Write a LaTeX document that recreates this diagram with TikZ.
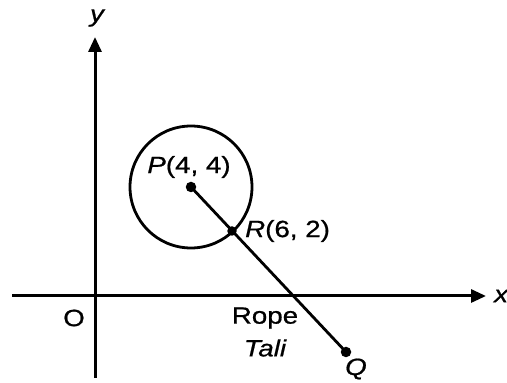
\documentclass[tikz,border=0pt]{standalone}
\usepackage{fontspec}
\setmainfont[FakeStretch=1.18,FakeBold=0.8]{Liberation Sans}
\usetikzlibrary{arrows.meta}
\begin{document}
\begin{tikzpicture}[x=1pt,y=1pt,
  ax/.style={line width=3pt,-{Triangle[length=15pt,width=13pt]}},
  ln/.style={line width=2.8pt},
  dot/.style={circle,fill=black,inner sep=0pt,minimum size=10.5pt},
  lbl/.style={font=\fontsize{23.5}{28}\selectfont,inner sep=0pt}]
\useasboundingbox (0,0) rectangle (507,383);
% axes
\coordinate (xs) at (12,87);
\coordinate (xe) at (486,87);
\coordinate (ys) at (95,5);
\coordinate (ye) at (95,346);
\draw[ax] (xs) -- (xe);
\draw[ax] (ys) -- (ye);
% points
\node[dot] (P) at (191,196) {};
\node[dot,minimum size=9.5pt] (R) at (232,152) {};
\node[dot] (Q) at (346,31) {};
\draw[ln] (P.center) circle[radius=61];
\draw[ln] (P.center) -- (Q.center);
% labels
\node[lbl] (ylab) at (97,365) {\itshape y};
\node[lbl,anchor=west] (xlab) at (494,87) {\itshape x};
\node[lbl] (O) at (74,65) {O};
\node[lbl] (Plab) at (189,216) {\itshape P\upshape(4, 4)};
\node[lbl,anchor=west] (Rlab) at (245,152) {\itshape R\upshape(6, 2)};
\node[lbl] (rope) at (265,65) {Rope};
\node[lbl] (tali) at (265,35) {\itshape Tali};
\node[lbl] (Qlab) at (356,14) {\itshape Q};
\end{tikzpicture}
\end{document}
